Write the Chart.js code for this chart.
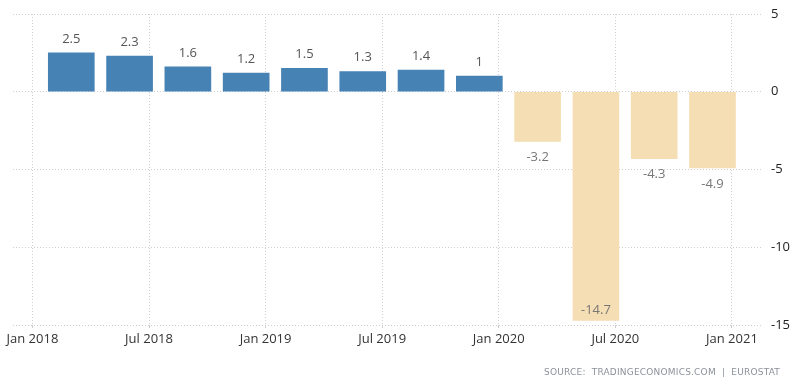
<!DOCTYPE html>
<html lang="en">
<head>
    <meta charset="UTF-8">
    <title>GDP Growth Rate</title>
    <script src="https://cdn.jsdelivr.net/npm/chart.js"></script>
    <style>
        body {
            margin: 0;
            background: white;
            font-family: "Open Sans", Arial, sans-serif;
        }
        .wrap {
            position: relative;
            width: 800px;
            height: 388px;
        }
        .source {
            position: absolute;
            right: 20px;
            top: 367px;
            font-size: 9px;
            letter-spacing: 0.2px;
            color: #8c919a;
            font-family: "DejaVu Sans", sans-serif;
        }
    </style>
</head>
<body>
    <div class="wrap">
        <canvas id="chart"></canvas>
        <div class="source">SOURCE: &nbsp;TRADINGECONOMICS.COM &nbsp;| &nbsp;EUROSTAT</div>
    </div>
    <script>
        // quarters shown, and the yearly growth value for each
        const quarters = ["2018Q1", "2018Q2", "2018Q3", "2018Q4", "2019Q1", "2019Q2",
                          "2019Q3", "2019Q4", "2020Q1", "2020Q2", "2020Q3", "2020Q4"];
        const growth = [2.5, 2.3, 1.6, 1.2, 1.5, 1.3, 1.4, 1, -3.2, -14.7, -4.3, -4.9];

        // x axis counts months from Jan 2018
        const tickMonths = [0, 6, 12, 18, 24, 30, 36];
        const tickLabels = ["Jan 2018", "Jul 2018", "Jan 2019", "Jul 2019", "Jan 2020", "Jul 2020", "Jan 2021"];
        const yTicks = [5, 0, -5, -10, -15];

        const blue = "#4682b4";
        const tan = "#f5deb3";

        // month position of each quarter's bar
        function quarterMonth(q) {
            const year = parseInt(q.slice(0, 4));
            const n = parseInt(q.slice(5));
            return (year - 2018) * 12 + (n - 1) * 3 + 2;
        }

        const points = quarters.map((q, i) => ({ x: quarterMonth(q), y: growth[i] }));

        const valueLabels = {
            id: "valueLabels",
            afterDatasetsDraw(chart) {
                const ctx = chart.ctx;
                const meta = chart.getDatasetMeta(0);
                ctx.save();
                ctx.font = "13px 'Open Sans', Arial, sans-serif";
                ctx.textAlign = "center";
                ctx.textBaseline = "middle";
                meta.data.forEach((bar, i) => {
                    const v = growth[i];
                    let y;
                    if (v >= 0) {
                        ctx.fillStyle = "#555";
                        y = bar.y - 14;
                    } else {
                        ctx.fillStyle = "#777";
                        y = bar.y + 16;
                        if (y + 8 > chart.chartArea.bottom) y = bar.y - 10;
                    }
                    ctx.fillText(String(v), bar.x, y);
                });
                ctx.restore();
            }
        };

        new Chart(document.getElementById("chart"), {
            type: "bar",
            data: {
                datasets: [{
                    data: points,
                    backgroundColor: growth.map(v => v >= 0 ? blue : tan),
                    borderWidth: 0,
                    barThickness: 46
                }]
            },
            options: {
                responsive: true,
                maintainAspectRatio: false,
                animation: false,
                layout: { padding: { left: 13, top: 14, right: 0, bottom: 0 } },
                plugins: {
                    legend: { display: false },
                    tooltip: { enabled: false }
                },
                scales: {
                    x: {
                        type: "linear",
                        min: -1,
                        max: 37.6,
                        offset: false,
                        grid: { color: "#cfcfcf", tickLength: 3, offset: false },
                        border: { display: false, dash: [1, 2] },
                        afterBuildTicks(scale) {
                            scale.ticks = tickMonths.map(v => ({ value: v }));
                        },
                        afterFit(scale) {
                            scale.height = 63;
                            scale.paddingLeft = 0;
                            scale.paddingRight = 0;
                        },
                        ticks: {
                            autoSkip: false,
                            maxRotation: 0,
                            padding: 3,
                            color: "#333",
                            font: { family: "'Open Sans', Arial, sans-serif", size: 13 },
                            callback: v => tickLabels[tickMonths.indexOf(v)]
                        }
                    },
                    y: {
                        position: "right",
                        min: -15,
                        max: 5,
                        grid: { color: "#cfcfcf", drawTicks: false },
                        border: { display: false, dash: [1, 2] },
                        afterBuildTicks(scale) {
                            scale.ticks = yTicks.map(v => ({ value: v }));
                        },
                        afterFit(scale) {
                            scale.width = 37;
                            scale.paddingTop = 0;
                            scale.paddingBottom = 0;
                        },
                        ticks: {
                            padding: 8,
                            color: "#222",
                            font: { family: "'Open Sans', Arial, sans-serif", size: 13 }
                        }
                    }
                }
            },
            plugins: [valueLabels]
        });
    </script>
</body>
</html>
